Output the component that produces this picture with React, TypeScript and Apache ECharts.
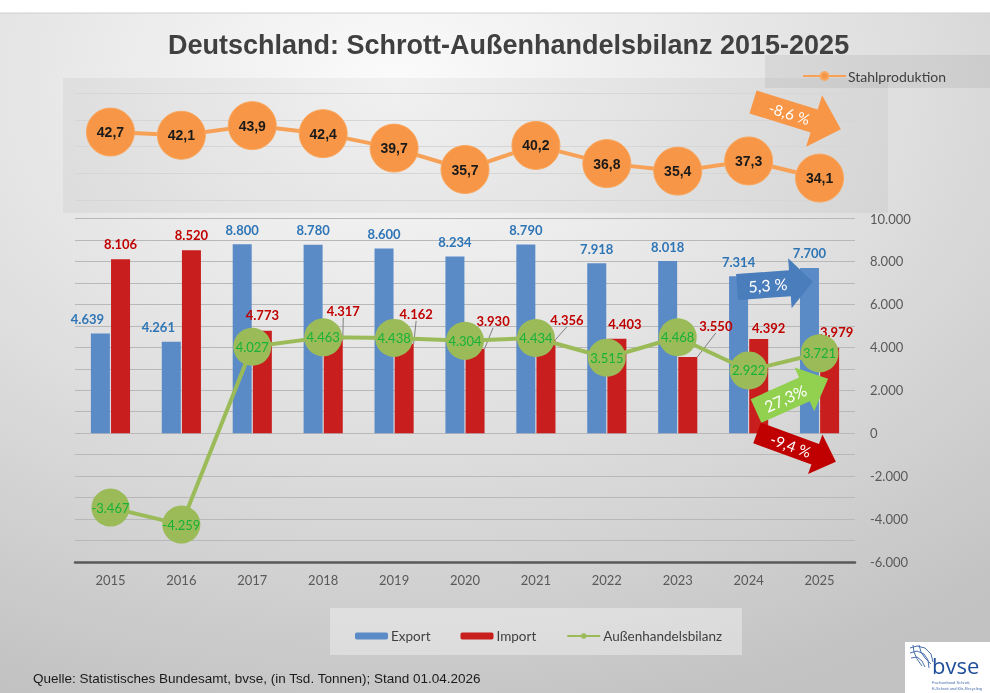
import React, { useEffect, useRef } from "react";
import * as echarts from "echarts";

const years = ["2015", "2016", "2017", "2018", "2019", "2020", "2021", "2022", "2023", "2024", "2025"];
const exportValues = [4639, 4261, 8800, 8780, 8600, 8234, 8790, 7918, 8018, 7314, 7700];
const importValues = [8106, 8520, 4773, 4317, 4162, 3930, 4356, 4403, 3550, 4392, 3979];
const balanceValues = [-3467, -4259, 4027, 4463, 4438, 4304, 4434, 3515, 4468, 2922, 3721];
const steelValues = [42.7, 42.1, 43.9, 42.4, 39.7, 35.7, 40.2, 36.8, 35.4, 37.3, 34.1];

const titleText = "Deutschland: Schrott-Außenhandelsbilanz 2015-2025";
const sourceText = "Quelle: Statistisches Bundesamt, bvse, (in Tsd. Tonnen); Stand 01.04.2026";
const arrowTexts = { steel: "-8,6 %", export: "5,3 %", balance: "27,3%", import: "-9,4 %" };

// label nudges (layout only)
const exportLabelShift = [[-13, 0], [-13, 0], [0, 0], [0, 0], [0, 0], [0, 0], [0, 0], [0, 0], [0, 0], [0, 0], [0, 0]];
const importLabelShift = [[0, 0], [0, 0], [0, 0], [10, -14], [12, -14], [18, -12], [21, -4], [8, 1], [28, -15], [10, 5], [7, 0]];
const importLeader = [false, false, false, true, true, true, true, false, true, false, false];

const fmt = (v: number) => {
  const s = Math.abs(Math.round(v)).toString().replace(/\B(?=(\d{3})+(?!\d))/g, ".");
  return (v < 0 ? "-" : "") + s;
};
const fmtDec = (v: number) => v.toFixed(1).replace(".", ",");

function arrow(x: number, y: number, rot: number, L: number, h: number, H: number, hh: number, fill: string, text: string, tx: number, fontSize: number) {
  return {
    type: "group",
    x,
    y,
    rotation: rot,
    z: 20,
    children: [
      {
        type: "polygon",
        z: 20,
        shape: { points: [[0, -h], [L, -h], [L, -hh], [L + H, 0], [L, hh], [L, h], [0, h]] },
        style: { fill },
      },
      {
        type: "text",
        z: 21,
        x: tx,
        y: 0,
        style: {
          text,
          fill: "#ffffff",
          font: `${fontSize}px Lato, 'Open Sans', sans-serif`,
          textAlign: "center",
          textVerticalAlign: "middle",
          align: "center",
          verticalAlign: "middle",
        },
      },
    ],
  };
}

export default function App() {
  const ref = useRef<HTMLDivElement>(null);
  useEffect(() => {
    if (!ref.current) return;
    const chart = echarts.init(ref.current, undefined, { renderer: "svg" });
    const labelFont = "Lato, 'Open Sans', sans-serif";
    const option: any = {
      animation: false,
      backgroundColor: new echarts.graphic.RadialGradient(0.4, 0.12, 0.95, [
        { offset: 0, color: "#fbfbfb" },
        { offset: 0.55, color: "#dedede" },
        { offset: 1, color: "#c2c2c2" },
      ]),
      title: {
        text: titleText,
        left: 163,
        top: 26,
        textStyle: { fontFamily: "'Liberation Sans', Arial, sans-serif", fontSize: 27, fontWeight: "bold", color: "#404040" },
      },
      legend: [
        {
          data: ["Export", "Import", "Außenhandelsbilanz"],
          left: 350,
          top: 624,
          itemWidth: 33,
          itemHeight: 7,
          itemGap: 30,
          selectedMode: false,
          textStyle: { fontFamily: labelFont, fontSize: 13.5, color: "#404040", padding: [0, 0, 0, -2] },
        },
        {
          data: ["Stahlproduktion"],
          left: 797,
          top: 64,
          itemWidth: 43,
          itemHeight: 10,
          selectedMode: false,
          textStyle: { fontFamily: labelFont, fontSize: 14, color: "#404040", padding: [0, 0, 0, -3] },
        },
      ],
      grid: [
        { left: 75, right: 135, top: 93, height: 107 },
        { left: 75, right: 135, top: 218.5, bottom: 131 },
      ],
      xAxis: [
        { type: "category", data: years, gridIndex: 0, show: false },
        {
          type: "category",
          data: years,
          gridIndex: 1,
          axisLine: { onZero: false, lineStyle: { color: "#595959", width: 2.5 } },
          axisTick: { show: false },
          axisLabel: { color: "#595959", fontFamily: labelFont, fontSize: 13, margin: 11 },
        },
      ],
      yAxis: [
        {
          type: "value",
          gridIndex: 0,
          min: 30,
          max: 50,
          interval: 5,
          axisLabel: { show: false },
          axisLine: { show: false },
          axisTick: { show: false },
          splitLine: { lineStyle: { color: "#d6d6d6", width: 1 } },
        },
        {
          type: "value",
          gridIndex: 1,
          position: "right",
          min: -6000,
          max: 10000,
          interval: 1000,
          axisLine: { show: false },
          axisTick: { show: false },
          axisLabel: {
            color: "#595959",
            fontFamily: labelFont,
            fontSize: 13,
            margin: 15,
            formatter: (v: number) => (v % 2000 === 0 ? fmt(v) : ""),
          },
          splitLine: { lineStyle: { color: "#b8b8b8", width: 1 } },
        },
      ],
      series: [
        {
          name: "Stahlproduktion",
          type: "line",
          xAxisIndex: 0,
          yAxisIndex: 0,
          data: steelValues,
          symbol: "circle",
          symbolSize: 48,
          lineStyle: { color: "#f7a157", width: 4 },
          itemStyle: { color: "#f79646", borderColor: "#f9a860", borderWidth: 1 },
          label: {
            show: true,
            position: "inside",
            formatter: (p: any) => fmtDec(p.value),
            fontFamily: "'Liberation Sans', Arial, sans-serif",
            fontWeight: "bold",
            fontSize: 14,
            color: "#1a1a1a",
          },
          z: 5,
        },
        {
          name: "Export",
          type: "bar",
          xAxisIndex: 1,
          yAxisIndex: 1,
          data: exportValues,
          barWidth: 19,
          barGap: "6%",
          itemStyle: { color: "#5b8bc7" },
          label: {
            show: true,
            position: "top",
            distance: 8,
            formatter: (p: any) => fmt(p.value),
            fontFamily: labelFont,
            fontWeight: "bold",
            fontSize: 13,
            color: "#2e75b6",
          },
          labelLayout: (p: any) => ({ dx: exportLabelShift[p.dataIndex][0], dy: exportLabelShift[p.dataIndex][1] }),
          z: 2,
        },
        {
          name: "Import",
          type: "bar",
          xAxisIndex: 1,
          yAxisIndex: 1,
          data: importValues.map((v, i) => ({ value: v, labelLine: { show: importLeader[i] } })),
          barWidth: 19,
          itemStyle: { color: "#c81e1e" },
          label: {
            show: true,
            position: "top",
            distance: 9,
            formatter: (p: any) => fmt(p.value),
            fontFamily: labelFont,
            fontWeight: "bold",
            fontSize: 13,
            color: "#c00000",
          },
          labelLine: { show: false, lineStyle: { color: "#7f7f7f", width: 1 } },
          labelLayout: (p: any) => ({ dx: importLabelShift[p.dataIndex][0], dy: importLabelShift[p.dataIndex][1] }),
          z: 2,
        },
        {
          name: "Außenhandelsbilanz",
          type: "line",
          xAxisIndex: 1,
          yAxisIndex: 1,
          data: balanceValues,
          symbol: "circle",
          symbolSize: 38,
          lineStyle: { color: "#9bbb59", width: 4 },
          itemStyle: { color: "#9bbb59" },
          label: {
            show: true,
            position: "inside",
            formatter: (p: any) => fmt(p.value),
            fontFamily: labelFont,
            fontSize: 13,
            color: "#16b238",
          },
          z: 6,
        },
      ],
      graphic: [
        { type: "rect", z: -10, shape: { x: 0, y: 0, width: 990, height: 13 }, style: { fill: "#ffffff" } },
        { type: "line", z: -9, shape: { x1: 0, y1: 13, x2: 990, y2: 13 }, style: { stroke: "#d0d0d0", lineWidth: 1 } },
        { type: "rect", z: -10, shape: { x: 63, y: 78, width: 825, height: 135 }, style: { fill: "rgba(0,0,0,0.04)" } },
        { type: "rect", z: -10, shape: { x: 765, y: 55, width: 225, height: 33 }, style: { fill: "rgba(0,0,0,0.06)" } },
        { type: "rect", z: -10, shape: { x: 330, y: 608, width: 412, height: 47 }, style: { fill: "rgba(255,255,255,0.35)" } },
        arrow(753, 102, -0.30, 64, 12, 28, 27, "#f79646", arrowTexts.steel, 38, 15),
        arrow(737, 287, 0.07, 53, 13, 23, 25, "#4a7dbb", arrowTexts.export, 31, 16),
        arrow(756, 411, 0.42, 53, 13, 26, 24, "#92d050", arrowTexts.balance, 32, 16),
        arrow(757, 433, -0.35, 62, 11, 22, 21, "#c00000", arrowTexts.import, 36, 15),
        {
          type: "text",
          z: 10,
          x: 33,
          y: 678,
          style: {
            text: sourceText,
            fill: "#1a1a1a",
            font: "13.5px 'Liberation Sans Narrow', 'Liberation Sans', Arial, sans-serif",
            textVerticalAlign: "middle",
            verticalAlign: "middle",
          },
        },
        {
          type: "group",
          x: 905,
          y: 642,
          z: 10,
          children: [
            { type: "rect", shape: { x: 0, y: 0, width: 85, height: 51 }, style: { fill: "#ffffff" } },
            { type: "polyline", shape: { points: [[5, 6], [12, 4], [20, 6], [26, 12], [28, 20]] }, style: { stroke: "#4a6fae", lineWidth: 1, fill: "none" } },
            { type: "polyline", shape: { points: [[5, 11], [12, 9], [19, 12], [23, 18], [24, 26]] }, style: { stroke: "#4a6fae", lineWidth: 1, fill: "none" } },
            { type: "polyline", shape: { points: [[6, 16], [12, 15], [17, 19], [20, 25]] }, style: { stroke: "#4a6fae", lineWidth: 1, fill: "none" } },
            { type: "polyline", shape: { points: [[8, 3], [9, 10], [12, 17], [17, 24]] }, style: { stroke: "#4a6fae", lineWidth: 1, fill: "none" } },
            { type: "polyline", shape: { points: [[14, 3], [16, 10], [20, 16], [26, 22]] }, style: { stroke: "#4a6fae", lineWidth: 1, fill: "none" } },
            {
              type: "text",
              x: 27,
              y: 23,
              style: { text: "bvse", fill: "#1f4e99", font: "22px 'Open Sans', sans-serif", textVerticalAlign: "middle", verticalAlign: "middle" },
            },
            {
              type: "text",
              x: 27,
              y: 40,
              style: { text: "Fachverband Schrott,", fill: "#4a6fae", font: "4px sans-serif", textVerticalAlign: "middle", verticalAlign: "middle" },
            },
            {
              type: "text",
              x: 27,
              y: 46,
              style: { text: "E-Schrott und Kfz-Recycling", fill: "#4a6fae", font: "4px sans-serif", textVerticalAlign: "middle", verticalAlign: "middle" },
            },
          ],
        },
      ],
    };
    chart.setOption(option);
    return () => chart.dispose();
  }, []);
  return <div ref={ref} style={{ position: "fixed", left: 0, top: 0, width: 990, height: 693 }} />;
}
